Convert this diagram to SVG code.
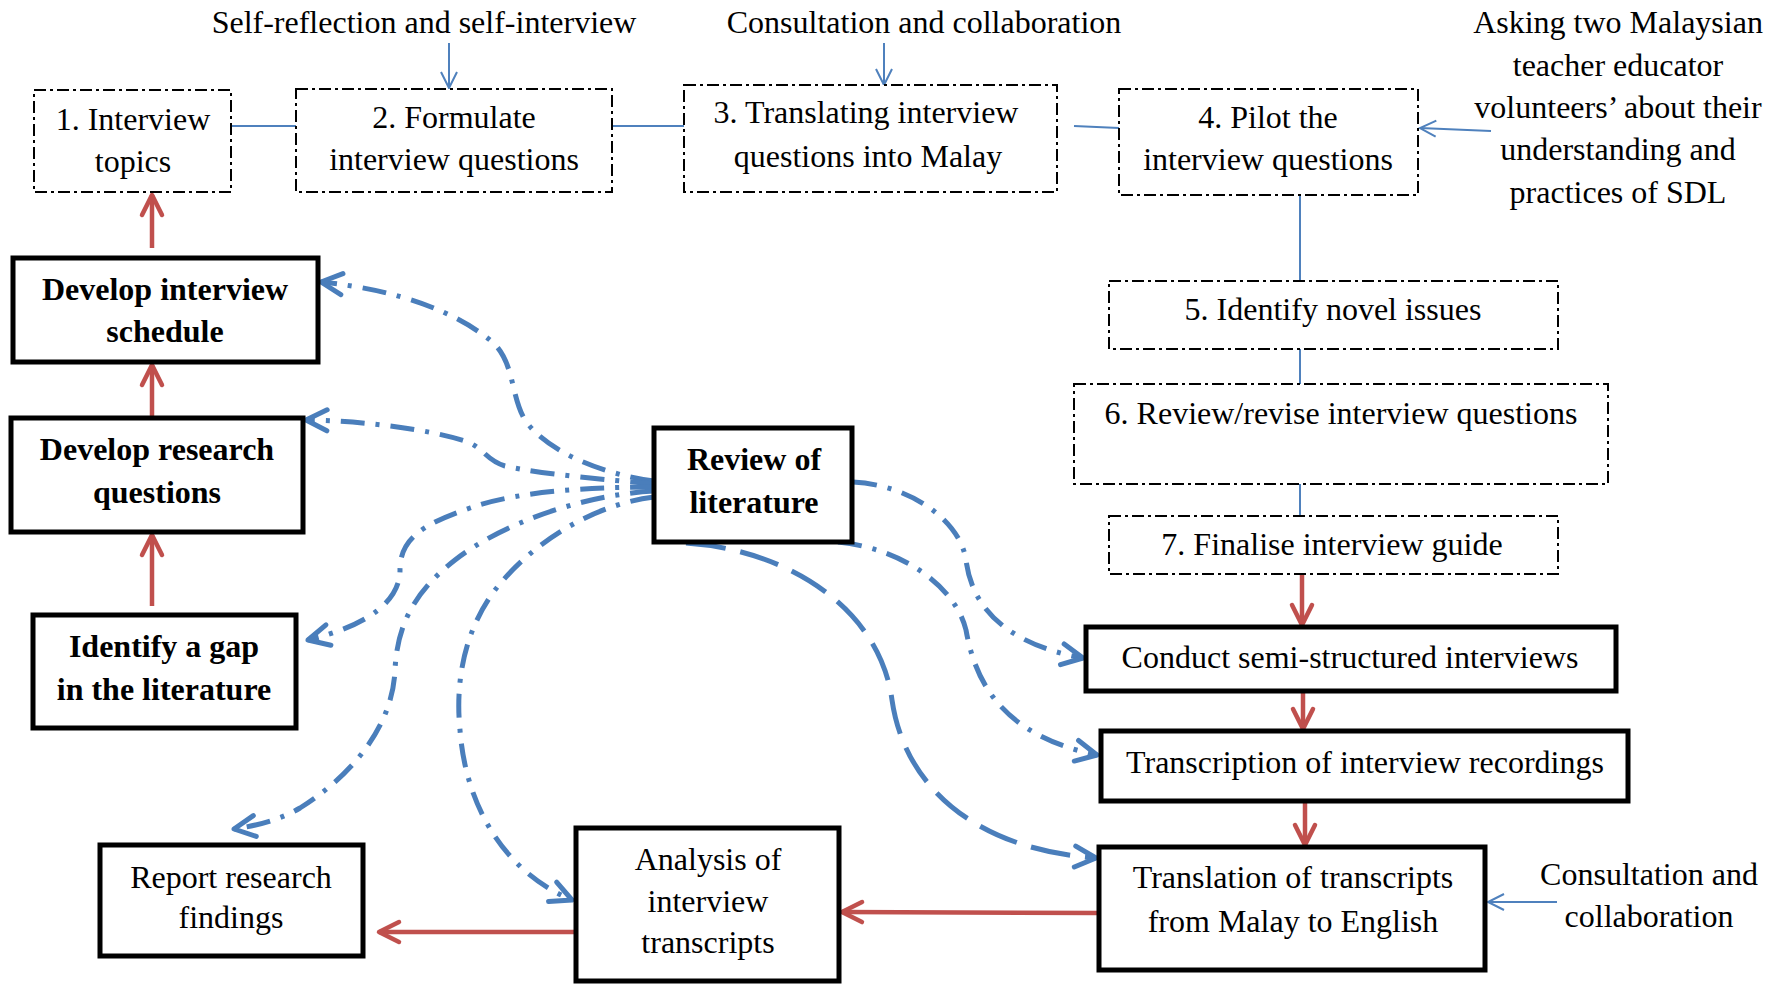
<svg xmlns="http://www.w3.org/2000/svg" width="1777" height="984" viewBox="0 0 1777 984">
<style>
.t{font-family:"Liberation Serif","Times New Roman",serif;font-size:32px;fill:#000;text-anchor:middle}
.b{font-weight:bold}
.solid{fill:#fff;stroke:#000;stroke-width:5}
.dbox{fill:#fff;stroke:#000;stroke-width:2;stroke-dasharray:12 4 3 4}
.thin{fill:none;stroke:#4F81BD;stroke-width:2}
.red{fill:none;stroke:#C0504D;stroke-width:4.5}
.lit{fill:none;stroke:#4A7EBB;stroke-width:5;stroke-dasharray:24 11 4 11}
.litd{fill:none;stroke:#4A7EBB;stroke-width:5;stroke-dasharray:40 15}
</style>
<defs>
<marker id="mr" viewBox="-26 -15 30 30" refX="0" refY="0" markerWidth="30" markerHeight="30" markerUnits="userSpaceOnUse" orient="auto">
<path d="M-20,-10 L0,0 L-20,10" fill="none" stroke="#C0504D" stroke-width="4.5" stroke-linecap="round" stroke-linejoin="round"/>
</marker>
<marker id="mb" viewBox="-26 -15 30 30" refX="0" refY="0" markerWidth="30" markerHeight="30" markerUnits="userSpaceOnUse" orient="auto">
<path d="M-21,-10.5 L0,0 L-21,10.5" fill="none" stroke="#4A7EBB" stroke-width="5" stroke-linecap="round" stroke-linejoin="round"/>
</marker>
<marker id="mt" viewBox="-20 -12 24 24" refX="0" refY="0" markerWidth="24" markerHeight="24" markerUnits="userSpaceOnUse" orient="auto">
<path d="M-16,-8 L0,0 L-16,8" fill="none" stroke="#4F81BD" stroke-width="2"/>
</marker>
</defs>
<rect width="1777" height="984" fill="#fff"/>

<g id="connectors">
<line class="thin" x1="231" y1="126" x2="296" y2="126"/>
<line class="thin" x1="612" y1="126" x2="684" y2="126"/>
<line class="thin" x1="1074" y1="126" x2="1119" y2="128"/>
<line class="thin" x1="1300" y1="195" x2="1300" y2="281"/>
<line class="thin" x1="1300" y1="349" x2="1300" y2="384"/>
<line class="thin" x1="1300" y1="484" x2="1300" y2="516"/>
<line class="thin" x1="449" y1="43" x2="449" y2="88" marker-end="url(#mt)"/>
<line class="thin" x1="884" y1="43" x2="884" y2="85" marker-end="url(#mt)"/>
<line class="thin" x1="1491" y1="131" x2="1420" y2="128" marker-end="url(#mt)"/>
<line class="thin" x1="1557" y1="902" x2="1488" y2="902" marker-end="url(#mt)"/>

<line class="red" x1="1302" y1="574" x2="1302" y2="625" marker-end="url(#mr)"/>
<line class="red" x1="1303" y1="691" x2="1303" y2="729" marker-end="url(#mr)"/>
<line class="red" x1="1305" y1="801" x2="1305" y2="845" marker-end="url(#mr)"/>
<line class="red" x1="1099" y1="913" x2="842" y2="912" marker-end="url(#mr)"/>
<line class="red" x1="576" y1="932" x2="379" y2="932" marker-end="url(#mr)"/>
<line class="red" x1="152" y1="248" x2="152" y2="195" marker-end="url(#mr)"/>
<line class="red" x1="152" y1="417" x2="152" y2="365" marker-end="url(#mr)"/>
<line class="red" x1="152" y1="606" x2="152" y2="535" marker-end="url(#mr)"/>

<path class="lit" d="M654,481 C600,474 545,450 525,420 C510,395 515,360 490,340 C455,312 400,290 321,282" marker-end="url(#mb)"/>
<path class="lit" d="M654,484 C610,480 540,474 505,466 C485,460 485,448 465,441 C430,430 370,421 306,420" marker-end="url(#mb)"/>
<path class="lit" d="M654,487 C600,487 520,490 470,508 C420,525 400,540 400,570 C400,600 370,625 308,640" marker-end="url(#mb)"/>
<path class="lit" d="M654,491 C580,495 500,525 455,560 C410,595 397,630 395,670 C393,720 360,770 300,808 C280,820 255,826 234,829" marker-end="url(#mb)"/>
<path class="lit" d="M654,497 C590,505 530,545 495,590 C465,630 455,680 460,730 C465,800 500,870 572,900" marker-end="url(#mb)"/>
<path class="lit" d="M853,482 C910,485 960,520 966,560 C972,610 1010,645 1083,658" marker-end="url(#mb)"/>
<path class="lit" d="M838,542 C900,548 955,585 966,630 C975,680 1000,735 1097,755" marker-end="url(#mb)"/>
<path class="litd" d="M686,543 C790,550 880,610 892,700 C905,790 980,850 1096,858" marker-end="url(#mb)"/>
</g>

<text class="t" x="424" y="33">Self-reflection and self-interview</text>
<text class="t" x="924" y="33">Consultation and collaboration</text>
<text class="t" x="1618"><tspan x="1618" y="33">Asking two Malaysian</tspan><tspan x="1618" y="76">teacher educator</tspan><tspan x="1618" y="118">volunteers’ about their</tspan><tspan x="1618" y="160">understanding and</tspan><tspan x="1618" y="203">practices of SDL</tspan></text>
<text class="t" x="1649"><tspan x="1649" y="885">Consultation and</tspan><tspan x="1649" y="927">collaboration</tspan></text>

<g id="n1"><rect class="dbox" x="34" y="90" width="197" height="102"/><text class="t"><tspan x="133" y="130">1. Interview</tspan><tspan x="133" y="172">topics</tspan></text></g>
<g id="n2"><rect class="dbox" x="296" y="89" width="316" height="103"/><text class="t"><tspan x="454" y="128">2. Formulate</tspan><tspan x="454" y="170">interview questions</tspan></text></g>
<g id="n3"><rect class="dbox" x="684" y="85" width="373" height="107"/><text class="t"><tspan x="866" y="123">3. Translating interview</tspan><tspan x="868" y="167">questions into Malay</tspan></text></g>
<g id="n4"><rect class="dbox" x="1119" y="89" width="299" height="106"/><text class="t"><tspan x="1268" y="128">4. Pilot the</tspan><tspan x="1268" y="170">interview questions</tspan></text></g>
<g id="n5"><rect class="dbox" x="1109" y="281" width="449" height="68"/><text class="t" x="1333" y="320">5. Identify novel issues</text></g>
<g id="n6"><rect class="dbox" x="1074" y="384" width="534" height="100"/><text class="t" x="1341" y="424">6. Review/revise interview questions</text></g>
<g id="n7"><rect class="dbox" x="1109" y="516" width="449" height="58"/><text class="t" x="1332" y="555">7. Finalise interview guide</text></g>

<g id="conduct"><rect class="solid" x="1086" y="627" width="530" height="64"/><text class="t" x="1350" y="668">Conduct semi-structured interviews</text></g>
<g id="transcription"><rect class="solid" x="1101" y="731" width="527" height="70"/><text class="t" x="1365" y="773">Transcription of interview recordings</text></g>
<g id="translation"><rect class="solid" x="1099" y="847" width="386" height="123"/><text class="t"><tspan x="1293" y="888">Translation of transcripts</tspan><tspan x="1293" y="932">from Malay to English</tspan></text></g>
<g id="analysis"><rect class="solid" x="576" y="828" width="263" height="153"/><text class="t"><tspan x="708" y="870">Analysis of</tspan><tspan x="708" y="912">interview</tspan><tspan x="708" y="953">transcripts</tspan></text></g>
<g id="report"><rect class="solid" x="100" y="845" width="263" height="111"/><text class="t"><tspan x="231" y="888">Report research</tspan><tspan x="231" y="928">findings</tspan></text></g>
<g id="review"><rect class="solid" x="654" y="428" width="198" height="114"/><text class="t b"><tspan x="754" y="470">Review of</tspan><tspan x="754" y="513">literature</tspan></text></g>
<g id="devint"><rect class="solid" x="13" y="258" width="305" height="104"/><text class="t b"><tspan x="165" y="300">Develop interview</tspan><tspan x="165" y="342">schedule</tspan></text></g>
<g id="devrq"><rect class="solid" x="11" y="418" width="292" height="114"/><text class="t b"><tspan x="157" y="460">Develop research</tspan><tspan x="157" y="503">questions</tspan></text></g>
<g id="gap"><rect class="solid" x="33" y="615" width="263" height="113"/><text class="t b"><tspan x="164" y="657">Identify a gap</tspan><tspan x="164" y="700">in the literature</tspan></text></g>
</svg>
